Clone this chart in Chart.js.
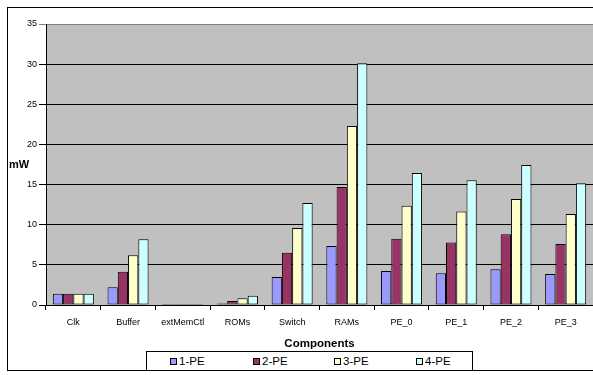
<!DOCTYPE html>
<html>
<head>
<meta charset="utf-8">
<script src="https://cdn.jsdelivr.net/npm/chart.js@4/dist/chart.umd.min.js"></script>
<style>
  html,body{margin:0;padding:0;background:#fff;}
  #wrap{position:relative;width:593px;height:375px;overflow:hidden;}
  #c{position:absolute;left:0;top:0;}
  #legend{position:absolute;left:146px;top:351px;width:325px;height:18px;border:1px solid #000;background:#fff;
    font-family:"Liberation Sans",Arial,sans-serif;font-size:11.5px;color:#000;}
  .item{position:absolute;top:2px;line-height:14px;white-space:nowrap;}
  .sw{display:inline-block;width:5px;height:5px;border:1px solid #000;margin-right:2px;vertical-align:0px;}
</style>
</head>
<body>
<div id="wrap">
  <canvas id="c" width="593" height="375"></canvas>
  <div id="legend"></div>
</div>
<script>
const categories = ["Clk","Buffer","extMemCtl","ROMs","Switch","RAMs","PE_0","PE_1","PE_2","PE_3"];
const seriesNames = ["1-PE","2-PE","3-PE","4-PE"];
const pe1 = [1.4, 2.2, 0.12, 0.2, 3.5, 7.35, 4.25, 3.95, 4.45, 3.85];
const pe2 = [1.4, 4.15, 0.12, 0.5, 6.5, 14.7, 8.25, 7.8, 8.8, 7.6];
const pe3 = [1.4, 6.2, 0.12, 0.85, 9.6, 22.3, 12.35, 11.65, 13.2, 11.35];
const pe4 = [1.4, 8.2, 0.12, 1.15, 12.7, 30.1, 16.45, 15.55, 17.45, 15.15];
const yTicks = [0,5,10,15,20,25,30,35];
const colors = ["#9999FF","#993366","#FFFFCC","#CCFFFF"];
const FONT = "'Liberation Sans', Arial, sans-serif";

const values = [pe1, pe2, pe3, pe4];
const datasets = seriesNames.map((n,i)=>({
  label:n, data:values[i], backgroundColor:colors[i],
  borderColor:'#000', borderWidth:1, borderSkipped:false,
  categoryPercentage:0.75, barPercentage:1.0
}));

const framePlugin = {
  id:'frame',
  beforeDraw(chart){
    const {ctx, chartArea:a} = chart;
    ctx.save();
    ctx.fillStyle='#fff'; ctx.fillRect(0,0,chart.width,chart.height);
    ctx.strokeStyle='#000'; ctx.lineWidth=1;
    ctx.strokeRect(7.5,7.5,chart.width+20,363);
    ctx.fillStyle='#C0C0C0';
    ctx.fillRect(a.left,a.top,a.right-a.left,a.bottom-a.top);
    ctx.restore();
  },
  afterDraw(chart){
    const ctx = chart.ctx;
    ctx.save();
    ctx.font = "bold 11px " + FONT;
    ctx.fillStyle = '#000';
    ctx.textBaseline = 'middle';
    ctx.textAlign = 'left';
    ctx.fillText('mW', 9, 165);
    ctx.restore();
  }
};

new Chart(document.getElementById('c'), {
  type:'bar',
  data:{labels:categories, datasets},
  options:{
    responsive:false, animation:false,
    layout:{padding:{top:24,left:0,right:0,bottom:0}},
    plugins:{legend:{display:false}, tooltip:{enabled:false}},
    scales:{
      x:{
        grid:{display:true, drawOnChartArea:false, drawTicks:true, tickLength:5, color:'#000', offset:true},
        border:{display:true, color:'#000'},
        ticks:{color:'#000', font:{family:FONT, size:9}, padding:7, maxRotation:0, autoSkip:false},
        title:{display:true, text:'Components', color:'#000', font:{family:FONT, size:11.5, weight:'bold'}, padding:{top:0,bottom:24}},
        afterFit(s){ s.height = 70; }
      },
      y:{
        min:0, max:35,
        afterBuildTicks(s){ s.ticks = yTicks.map(v=>({value:v})); },
        grid:{color:(c)=> c.tick && c.tick.value===35 ? '#808080' : '#000', tickLength:7, drawTicks:true},
        border:{display:true, color:'#000'},
        ticks:{color:'#000', font:{family:FONT, size:9}, padding:2},
        afterFit(s){ s.width = 46; }
      }
    }
  },
  plugins:[framePlugin]
});

const legendEl = document.getElementById('legend');
const legendX = [23, 106, 187, 269];
seriesNames.forEach((n,i)=>{
  const d = document.createElement('div');
  d.className='item';
  d.style.left = legendX[i]+'px';
  d.innerHTML = '<span class="sw" style="background:'+colors[i]+'"></span>'+n;
  legendEl.appendChild(d);
});
</script>
</body>
</html>
